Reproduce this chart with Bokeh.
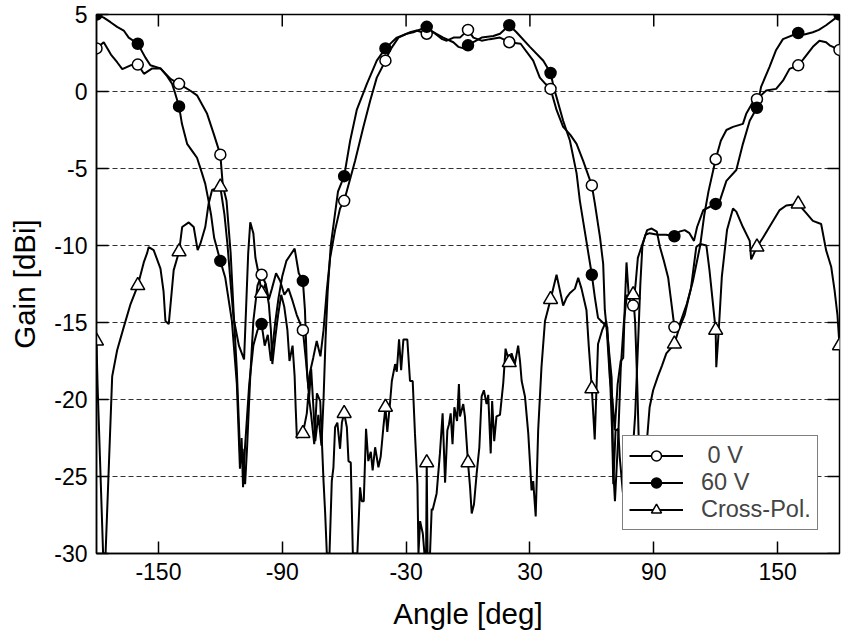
import numpy as np
from bokeh.plotting import figure
from bokeh.models import Range1d, FixedTicker, Legend, LegendItem, CustomJSTickFormatter
from bokeh.embed import file_html
from bokeh.resources import INLINE

# ---------------- data ----------------
x_ticks = [-150, -90, -30, 30, 90, 150]
y_ticks = [5, 0, -5, -10, -15, -20, -25, -30]
grid_levels = [0, -5, -10, -15, -20, -25]
marker_angles = list(range(-180, 181, 20))

zero_x = [-180, -176.5, -173, -170, -167.5, -163.5, -160, -157, -153, -149, -144, -140,
          -134.5, -131.3, -126.4, -123.2, -120, -118.8, -117, -115, -113.6, -112, -110.3,
          -109.2, -108, -107, -105.5, -104, -102, -100, -98, -96.5, -95, -93, -91, -89, -87,
          -85, -83, -80, -78.5, -77.3, -76.5, -75, -73.3, -71.5, -70, -68.4, -66.8, -64.4,
          -62, -60, -54.7, -50.7, -47.4, -44.2, -40, -37.7, -33.7, -28, -24.9, -20, -16.8,
          -12.5, -10.3, -7, -3.9, 0, 2.6, 6.6, 10.6, 15.5, 20, 25.5, 31.6, 34.8, 37.5, 40,
          42.9, 46.1, 49.5, 52.6, 55.8, 60, 61.5, 64, 65.5, 66.3, 68, 69.6, 70.4, 71.2, 72.8,
          74, 75.5, 77, 80, 81.2, 82.3, 84.5, 86.8, 89, 91.5, 93, 94.7, 97, 98.8, 100, 102.6,
          106, 109, 112.5, 114.5, 116.5, 120, 122.5, 125.2, 128.4, 133.2, 134.8, 138, 140,
          144.5, 149.3, 152.6, 155.8, 160, 162.5, 167.1, 170.3, 173.5, 175.2, 180]
zero_y = [2.8, 3.2, 2.4, 1.9, 1.45, 1.7, 1.75, 1.15, 1.5, 1.5, 0.8, 0.5,
          0.05, -0.25, -1.45, -2.75, -4.1, -6.1, -7.1, -10.5, -14.2, -18.1, -24.0,
          -23.2, -25.5, -23, -18.5, -14.9, -12.6, -11.9, -12.5, -13.5, -12.8, -11.8, -12.3, -13.2, -12.8,
          -13.6, -14.5, -15.5, -17.5, -19.3, -18.2, -17.3, -16.2, -17.2, -15.5, -12.9, -10.8, -9.0,
          -7.6, -7.1, -4.5, -2.3, -0.6, 0.9, 2.0, 2.7, 3.5, 3.85, 3.96, 3.75, 3.85,
          3.4, 3.3, 3.5, 3.5, 4.0, 3.5, 3.3, 3.4, 3.5, 3.2, 3.1, 2.0, 0.9, 0.5, 0.17,
          -1.2, -2.3, -2.8, -3.4, -4.5, -6.1, -7.3, -9.5, -11.2, -14.2, -16.4, -18.6, -24.6, -26.6, -22.4,
          -18, -15, -13.2, -13.9, -12.5, -10.8, -9.9, -9.0, -8.9, -9.1, -10.1, -10.9, -12.1, -14, -15.3, -15.1,
          -13.8, -12.3, -10, -8, -6.5, -4.4, -3.2, -2.5, -2.3, -2.1, -1.45, -0.7, -0.5,
          0.06, 0.17, 0.7, 1.47, 1.7, 2.1, 2.9, 3.3, 3.2, 3.0, 2.7]

sixty_x = [-180, -176.5, -173.2, -170, -166.8, -164.4, -160, -156.3, -153.9, -149, -145.8, -143.4,
           -142.3, -140, -138.6, -136.1, -132.9, -131.3, -128.9, -127.3, -125.7, -124.5, -123, -120,
           -117.6, -114.4, -112, -110.5, -109.7, -109, -108, -106, -104, -102, -100, -98.5, -97,
           -95.5, -93.4, -91.8, -90, -88, -86, -84, -82, -80, -79, -78, -77, -76, -75, -74, -72.5,
           -71, -70, -69, -68, -66.5, -65, -63, -60, -57.1, -53.9, -49, -44.2, -40, -34.5, -29.7,
           -26.5, -20, -16.8, -12, -7.1, -4.7, -2, 0, 2.6, 6.6, 12.3, 15.5, 20, 23.5, 30, 36.5, 40,
           41.5, 46.1, 49.4, 52.6, 54.2, 56.5, 60, 61.5, 63, 64.5, 66, 67.5, 68.7, 69.8, 70.4, 71.5,
           72.8, 73.5, 75, 77, 79, 81, 82.5, 83.5, 84.5, 86, 88, 92, 96, 100, 102.4, 105, 107.3,
           109.5, 111, 114, 117, 120, 122, 125.2, 130, 133.2, 136.5, 140, 142, 146.1, 149.3, 152.6,
           160, 163, 167.1, 170, 173.5, 178.4, 180]
sixty_y = [5.0, 4.8, 4.5, 4.2, 3.96, 3.5, 3.1, 2.2, 1.7, 1.5, 1.0, 0.5,
           0.06, -0.97, -2.1, -3.4, -4.0, -4.3, -5.3, -6.0, -7.1, -8.0, -9.5, -11.0,
           -12.1, -14.9, -19, -24.5, -22.5, -25.7, -23, -19, -16.5, -15.5, -15.1, -16.5, -15.8,
           -17.5, -15, -13.4, -12, -11, -10.6, -10.2, -11.8, -12.3, -14.2, -18.1, -19.9, -18, -20.3, -22.7, -21,
           -23, -20, -16, -13, -10, -8.5, -6.5, -5.5, -3.2, -1.2, 0.5, 2.0, 2.8, 3.5, 3.75,
           3.85, 4.2, 3.85, 3.5, 3.2, 2.9, 2.8, 3.0, 3.2, 3.5, 3.6, 3.75, 4.3, 3.85, 2.9, 2.0, 1.2,
           0.3, -1.9, -3.2, -5.3, -7.1, -9, -11.9, -13.4, -14.7, -14.9, -15.1, -15.3, -18.1, -22, -25.5, -22,
           -21.9, -23.7, -26, -27, -25, -21, -16, -12.5, -10, -9.3, -9.2, -9.3, -9.3, -9.4, -9.1, -9.0, -9.2,
           -9.7, -8.8, -7.7, -7.5, -7.3, -7.1, -5.8, -5.1, -3.4, -1.9, -1.06, 0.3, 1.6, 2.7, 3.4,
           3.8, 3.7, 3.85, 4.0, 4.3, 4.8, 5.0]

cross_x = [-180, -179.5, -176.8, -175.6, -172.4, -170, -166.8, -163.5, -160, -157.1, -155.5, -154.7,
           -152.3, -149, -147.5, -146.6, -145, -142.6, -140, -138.5, -135.3, -132.9, -131, -129.7,
           -127.3, -125.7, -124, -120, -118, -116.5, -115, -113.6, -111, -108.5, -107.5, -106.5,
           -105.5, -104, -103, -101.5, -100, -98.2, -96.5, -95.5, -94.8, -93.4, -92, -90.5, -89,
           -87.5, -86.5, -85, -84, -83.5, -82.9, -80, -78.1, -77.3, -76, -74.5, -73.2, -71.6, -70,
           -69.2, -68.4, -67.1, -66, -65.2, -64.4, -63.3, -62, -61.1, -60, -58.7, -57.9, -56.8,
           -55.8, -53.6, -52.3, -51.5, -50.5, -49.4, -48.3, -47.1, -46.2, -45, -43.4, -42.3, -41,
           -40, -39.1, -37.7, -36.9, -35.3, -34.5, -33.4, -32.4, -31.3, -29.4, -28.1, -26.8, -25.7,
           -24.5, -24, -23.2, -21.9, -21.1, -20.3, -20, -19.6, -18.4, -17.6, -17.2, -15.2, -13.6,
           -12.3, -11.1, -10, -9.2, -8.4, -7.5, -6.6, -5.3, -4.4, -3.9, -2.3, -1.5, 0, 1.0, 1.8,
           2.9, 4.2, 5.5, 6.6, 7.7, 9.0, 9.8, 11, 11.7, 12.7, 13.8, 15.5, 17.1, 18.2, 20, 21.1,
           22.7, 24.3, 25.2, 26, 27.6, 29.2, 30.8, 31.6, 32.8, 34, 35.6, 37.3, 40, 42.9, 44.5,
           46.1, 47.7, 49.3, 51.8, 53.4, 55, 57.4, 58.5, 60, 61.4, 63, 65, 67, 68.7, 70, 71.1,
           72.5, 74, 75.2, 76, 76.8, 78, 80, 81, 82, 83, 84.5, 85.8, 86.8, 88, 89.7, 92, 94, 96.1,
           100, 102, 105, 108, 110.6, 112.5, 115.5, 117, 120, 120.3, 121.5, 123, 125.5, 128.4,
           130, 133.2, 136.5, 137.2, 140, 142.9, 146.9, 151, 154.2, 160, 163.9, 167.1, 171.1,
           173.5, 176, 177.6, 179, 180]
cross_y = [-16.2, -19, -30, -30, -18.5, -16.8, -15.3, -13.8, -12.6, -11.1, -10.5, -10.1,
           -10.3, -11.5, -13, -14.9, -15.1, -11.6, -10.4, -8.8, -8.5, -8.8, -10.3, -9.9,
           -8.8, -7.3, -6.4, -6.2, -8, -10, -12.5, -14.7, -16.5, -17.4, -14, -10.5,
           -8.5, -9.2, -10.8, -11.8, -13.1, -12.5, -13.8, -15.5, -17.7, -16, -14.5, -13.2, -14,
           -15.5, -17.5, -16.5, -18.5, -20.5, -22.5, -22.2, -20.9, -19.6, -21, -22.9, -19.6, -20.1, -25.3,
           -27.4, -30, -30, -25.3, -24.4, -21.8, -21.5, -23.2, -21.5, -20.9, -21.8, -24, -24.1,
           -30, -30, -25.7, -26.6, -26.6, -21.9, -24, -23.4, -24.6, -23.1, -24.4, -23.7, -21.8,
           -20.5, -22.1, -20.1, -18.8, -17.7, -18.2, -16.1, -18.1, -16.1, -16.1, -18.8, -18.8, -22.2,
           -25.5, -30, -27.9, -28.7, -30, -30, -24.1, -30, -30, -27.1, -27.2, -26.1, -23.5,
           -20.9, -25.4, -22, -21.6, -20.9, -22.9, -20.5, -21.4, -19, -21.1, -20.3, -21.1, -24.1, -25.7, -27.4,
           -26.8, -24.8, -23.1, -19.8, -19.4, -20.3, -19.7, -23.5, -20.1, -22.7, -21.1, -21, -18.9, -16.7, -17.6, -17,
           -17.7, -16.5, -17.5, -18.8, -19.8, -22.2, -25.9, -25.3, -27.6, -22, -17.9, -14.9, -13.5, -11.9, -12.9,
           -13.9, -13.4, -13.1, -12.8, -12.1, -12.8, -14.2, -16.5, -19.3, -22.6, -16.4, -15.5, -14.9, -18.6, -20, -22,
           -19, -17.5, -17.3, -13.8, -11.1, -13.5, -13.2, -15, -19, -24, -27, -25, -22.5, -20.5, -19.4, -18.5, -17.8, -17,
           -16.4, -15.5, -14.5, -12.8, -10.1, -9.9, -10, -11.6, -15.5, -17.9, -15.5, -12, -9, -7.6,
           -7.8, -8.8, -9.7, -10.9, -10.1, -9.5, -8.6, -7.7, -7.4, -7.3, -7.9, -8.4, -8.6,
           -10.3, -11.4, -12.9, -14.5, -16.5]

# markers sit on the measured curves every 20 degrees
zero_mk = np.interp(marker_angles, zero_x, zero_y)
sixty_mk = np.interp(marker_angles, sixty_x, sixty_y)
cross_mk = np.interp(marker_angles, cross_x, cross_y)

FONT = "Liberation Sans"
x_lo, x_hi = -180, 180
y_lo, y_hi = -30, 5
W, H = 841, 639
BL, BR, BT, BB = 96, 2, 14, 86
TICK_PX = 12

p = figure(width=W, height=H, output_backend="svg", toolbar_location=None,
           x_range=Range1d(x_lo, x_hi), y_range=Range1d(y_lo, y_hi),
           min_border_left=BL, min_border_right=BR, min_border_top=BT, min_border_bottom=BB,
           x_axis_label="Angle [deg]", y_axis_label="Gain [dBi]")
p.background_fill_color = "white"
p.border_fill_color = "white"
p.outline_line_color = "black"
p.outline_line_width = 1.5

plain = CustomJSTickFormatter(code="return tick.toString();")
for ax in (p.xaxis[0], p.yaxis[0]):
    ax.formatter = plain
    ax.major_tick_in = TICK_PX
    ax.major_tick_out = 0
    ax.minor_tick_line_color = None
    ax.axis_line_width = 1.5
    ax.major_tick_line_width = 1.5
    ax.major_label_text_font = FONT
    ax.major_label_text_font_size = "23px"
    ax.major_label_text_color = "black"
    ax.axis_label_text_font = FONT
    ax.axis_label_text_font_size = "29.5px"
    ax.axis_label_text_font_style = "normal"
    ax.axis_label_text_color = "black"
p.xaxis[0].ticker = FixedTicker(ticks=x_ticks)
p.yaxis[0].ticker = FixedTicker(ticks=y_ticks)
p.xaxis[0].major_label_standoff = 9
p.xaxis[0].axis_label_standoff = 14
p.yaxis[0].major_label_standoff = 9
p.yaxis[0].axis_label_standoff = 10

# inward ticks on the top and right frame edges, TICK_PX long
dy = TICK_PX * (y_hi - y_lo) / (H - BT - BB)
dx = TICK_PX * (x_hi - x_lo) / (W - BL - BR)
p.segment(x0=x_ticks, y0=[y_hi] * len(x_ticks), x1=x_ticks, y1=[y_hi - dy] * len(x_ticks),
          line_color="black", line_width=1.5)
p.segment(x0=[x_hi] * len(y_ticks), y0=y_ticks, x1=[x_hi - dx] * len(y_ticks), y1=y_ticks,
          line_color="black", line_width=1.5)

p.xgrid.visible = False
p.ygrid[0].ticker = FixedTicker(ticks=grid_levels)
p.ygrid.grid_line_color = "#333333"
p.ygrid.grid_line_dash = "5 3"
p.ygrid.grid_line_width = 1

l0 = p.line(zero_x, zero_y, line_color="black", line_width=2)
l60 = p.line(sixty_x, sixty_y, line_color="black", line_width=2)
lx = p.line(cross_x, cross_y, line_color="black", line_width=2)
s0 = p.scatter(marker_angles, zero_mk, marker="circle", size=11, fill_color="white",
               line_color="black", line_width=1.5)
s60 = p.scatter(marker_angles, sixty_mk, marker="circle", size=11, fill_color="black",
                line_color="black", line_width=1.5)
sx = p.scatter(marker_angles, cross_mk, marker="triangle", size=14, fill_color="white",
               line_color="black", line_width=1.5)

legend = Legend(items=[LegendItem(label=" 0 V", renderers=[l0, s0]),
                       LegendItem(label="60 V", renderers=[l60, s60]),
                       LegendItem(label="Cross-Pol.", renderers=[lx, sx])],
                location=(526, 23), label_text_font=FONT, label_text_font_size="23.5px",
                glyph_width=54, glyph_height=25, label_height=25, spacing=0, padding=6,
                margin=0, label_standoff=18, border_line_color="black", border_line_width=1.5,
                background_fill_color="white", background_fill_alpha=1.0)
p.add_layout(legend)

open("out.html", "w").write(file_html(p, INLINE))
